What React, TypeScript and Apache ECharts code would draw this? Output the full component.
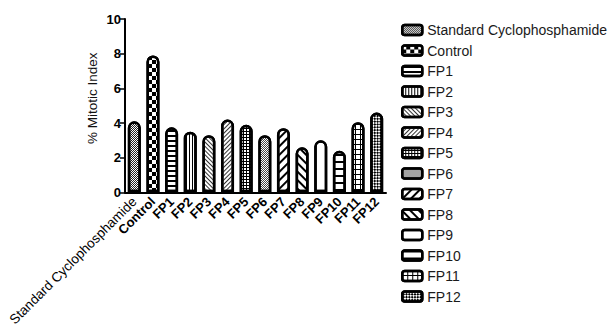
import React, { useEffect, useRef } from "react";
import * as echarts from "echarts";

const categories = [
  "Standard Cyclophosphamide", "Control", "FP1", "FP2", "FP3", "FP4", "FP5",
  "FP6", "FP7", "FP8", "FP9", "FP10", "FP11", "FP12",
];
const values = [4.1, 7.9, 3.75, 3.5, 3.3, 4.2, 3.9, 3.3, 3.7, 2.6, 3.0, 2.4, 4.05, 4.6];
const yTicks = { min: 0, max: 10, interval: 2 };

const FONT = "'Liberation Sans', Arial, sans-serif";

const decals: any[] = [
  // Standard: fine gray dots
  { symbol: "rect", symbolSize: 1, dashArrayX: [[1, 1], [0, 1, 1, 0]], dashArrayY: [1, 0], color: "#222", backgroundColor: "#fff" },
  // Control: checkerboard
  { symbol: "rect", symbolSize: 1, dashArrayX: [[4, 4], [0, 4, 4, 0]], dashArrayY: [4, 0], color: "#000", backgroundColor: "#fff" },
  // FP1: horizontal stripes
  { symbol: "rect", symbolSize: 1, dashArrayX: [1, 0], dashArrayY: [1.3, 2.2], color: "#000", backgroundColor: "#fff" },
  // FP2: vertical stripes
  { symbol: "rect", symbolSize: 1, dashArrayX: [1, 1.8], dashArrayY: [1, 0], color: "#000", backgroundColor: "#fff" },
  // FP3: fine diagonal /
  { symbol: "rect", symbolSize: 1, dashArrayX: [1, 0], dashArrayY: [1, 1.5], rotation: Math.PI / 4, color: "#333", backgroundColor: "#fff" },
  // FP4: fine diagonal \
  { symbol: "rect", symbolSize: 1, dashArrayX: [1, 0], dashArrayY: [1, 1.5], rotation: -Math.PI / 4, color: "#333", backgroundColor: "#fff" },
  // FP5: grid
  { symbol: "rect", symbolSize: 1, dashArrayX: [[1, 0], [1, 2], [1, 2]], dashArrayY: [1, 0], color: "#000", backgroundColor: "#fff" },
  // FP6: fine dots
  { symbol: "rect", symbolSize: 1, dashArrayX: [[1, 1], [0, 1, 1, 0]], dashArrayY: [1, 0], color: "#444", backgroundColor: "#fff" },
  // FP7: wide diagonal \
  { symbol: "rect", symbolSize: 1, dashArrayX: [1, 0], dashArrayY: [1.6, 4], rotation: -Math.PI / 4, color: "#000", backgroundColor: "#fff" },
  // FP8: wide diagonal /
  { symbol: "rect", symbolSize: 1, dashArrayX: [1, 0], dashArrayY: [1.6, 4], rotation: Math.PI / 4, color: "#000", backgroundColor: "#fff" },
  // FP9: plain white
  null,
  // FP10: wide horizontal stripes
  { symbol: "rect", symbolSize: 1, dashArrayX: [1, 0], dashArrayY: [1.6, 4.4], color: "#000", backgroundColor: "#fff" },
  // FP11: wide grid
  { symbol: "rect", symbolSize: 1, dashArrayX: [[1, 0], [1, 4], [1, 4], [1, 4], [1, 4]], dashArrayY: [1, 0], color: "#000", backgroundColor: "#fff" },
  // FP12: diamond lattice
  { symbol: "rect", symbolSize: 1, dashArrayX: [[2, 2], [0, 2, 2, 0]], dashArrayY: [2, 0], rotation: Math.PI / 4, color: "#000", backgroundColor: "#fff" },
];

export default function App() {
  const ref = useRef<HTMLDivElement>(null);
  useEffect(() => {
    if (!ref.current) return;
    const chart = echarts.init(ref.current, undefined, { renderer: "svg" });
    const series = categories.map((name, i) => ({
      name,
      type: "bar",
      stack: "all",
      barWidth: 13,
      data: categories.map((_, j) => (j === i ? values[i] : null)),
      itemStyle: {
        color: "#fff",
        borderColor: "#000",
        borderWidth: 2.5,
        borderRadius: [6, 6, 0, 0],
        decal: decals[i] || { symbol: "none", color: "#fff", backgroundColor: "#fff" },
      },
    }));
    chart.setOption({
      animation: false,
      backgroundColor: "#fff",
      aria: { enabled: false, decal: { show: true } },
      textStyle: { fontFamily: FONT },
      grid: { left: 125, right: 227, top: 19, bottom: 133, containLabel: false },
      legend: {
        orient: "vertical",
        left: 401,
        top: 23,
        padding: 0,
        itemWidth: 20,
        itemHeight: 10,
        itemGap: 6.5,
        icon: "roundRect",
        textStyle: { fontSize: 14, color: "#1a1a1a", fontFamily: FONT },
        itemStyle: { borderColor: "#000", borderWidth: 2.5 },
        data: categories,
      },
      xAxis: {
        type: "category",
        data: categories,
        axisLine: { lineStyle: { color: "#000", width: 2 } },
        axisTick: { alignWithLabel: true, length: 5, lineStyle: { color: "#000", width: 1.5 } },
        axisLabel: {
          rotate: 45,
          interval: 0,
          color: "#000",
          fontWeight: "bold",
          fontSize: 13,
          fontFamily: FONT,
          margin: 7,
          formatter: (v: string) => (v.length > 10 ? `{n|${v}}` : v),
          rich: {
            n: { fontWeight: "normal", fontSize: 13.5, color: "#000", fontFamily: FONT },
          },
        },
      },
      yAxis: {
        type: "value",
        min: yTicks.min,
        max: yTicks.max,
        interval: yTicks.interval,
        name: "% Mitotic Index",
        nameLocation: "middle",
        nameGap: 26,
        nameTextStyle: { fontSize: 13.5, color: "#111", fontFamily: FONT, padding: [0, 0, 0, 15] },
        axisLine: { show: true, lineStyle: { color: "#000", width: 2 } },
        axisTick: { show: true, length: 5, lineStyle: { color: "#000", width: 1.5 } },
        axisLabel: { color: "#000", fontWeight: "bold", fontSize: 13, fontFamily: FONT, margin: 4 },
        splitLine: { show: false },
      },
      series,
    });
    return () => chart.dispose();
  }, []);
  return (
    <div
      ref={ref}
      style={{ position: "absolute", left: 0, top: 0, width: 613, height: 329 }}
    />
  );
}
